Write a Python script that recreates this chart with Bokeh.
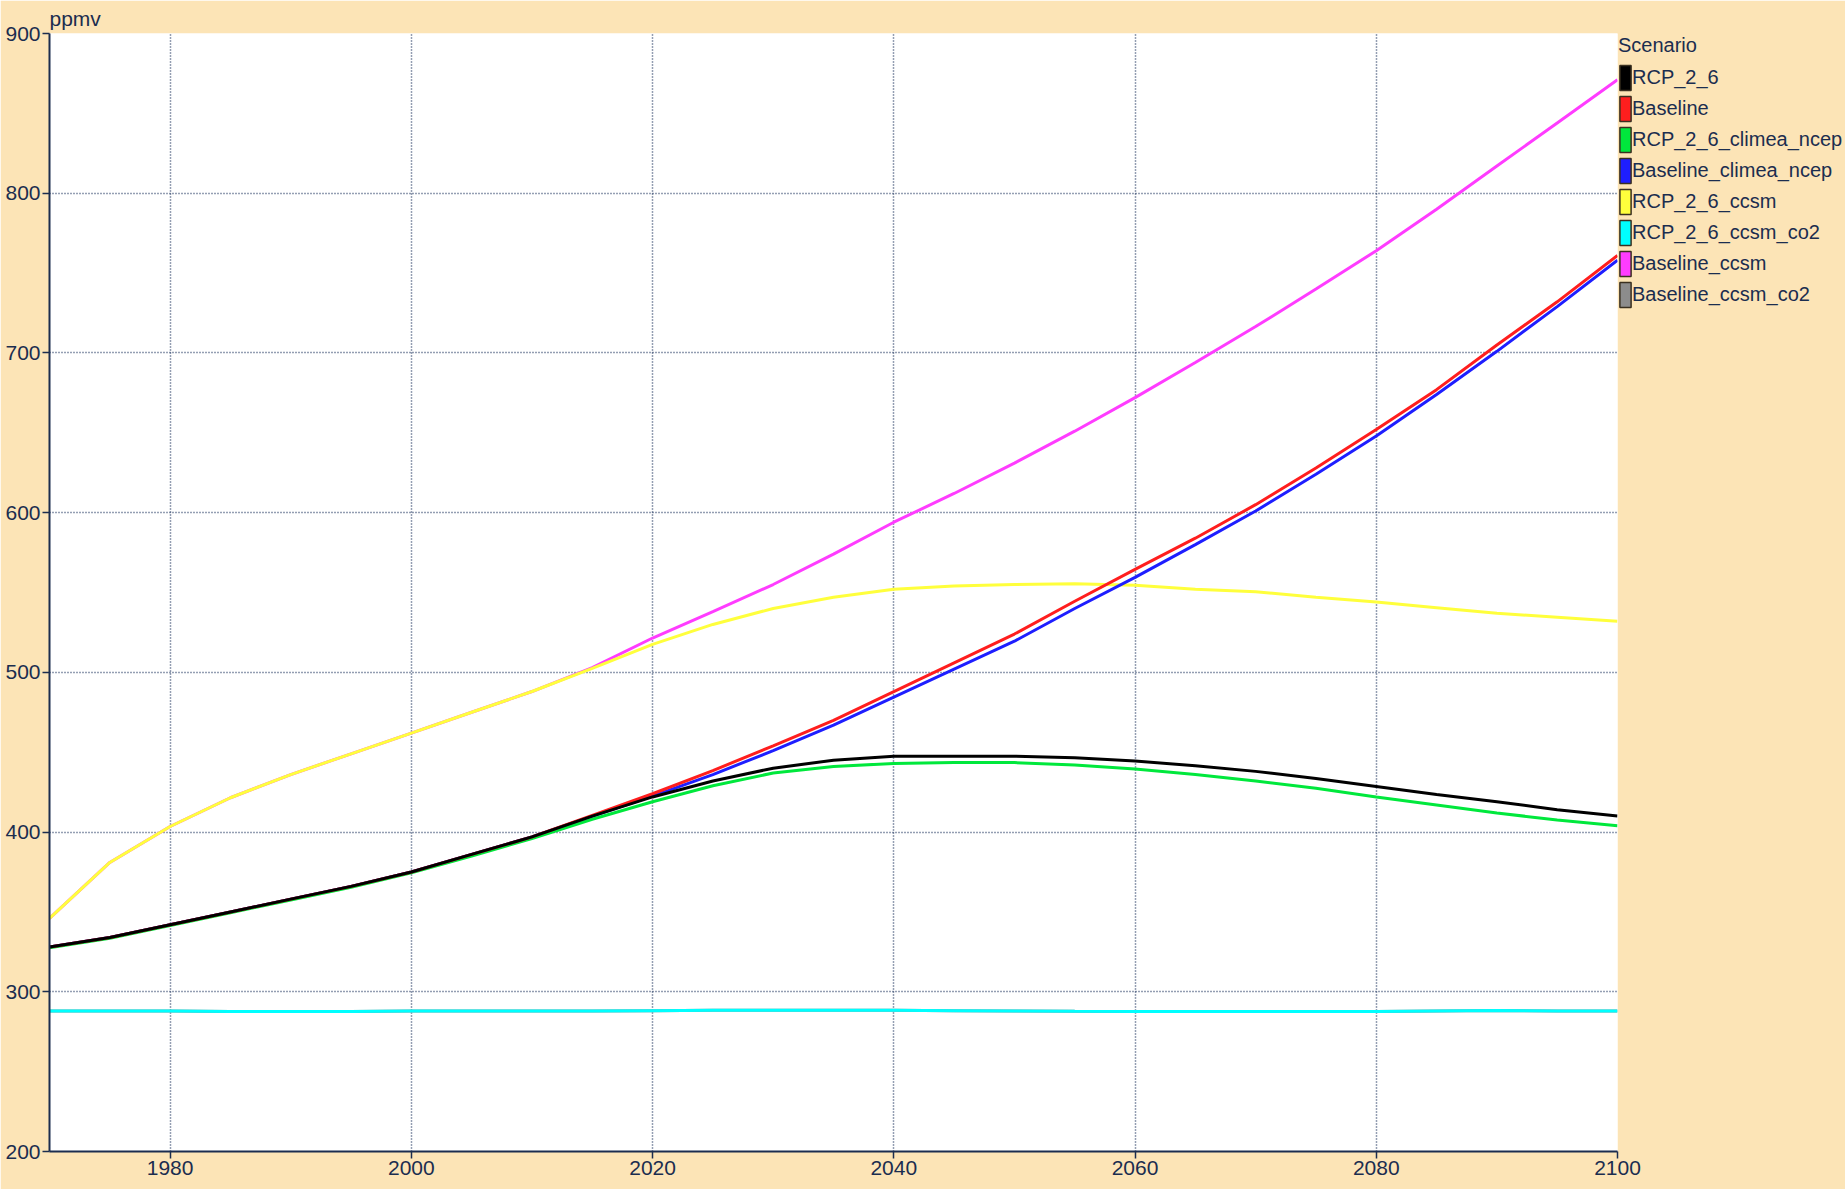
from bokeh.plotting import figure
from bokeh.models import Range1d, FixedTicker, Legend, LegendItem
from bokeh.embed import file_html
from bokeh.resources import INLINE

years = list(range(1970, 2101, 5))

rcp_2_6 = [328, 334, 342, 350, 358, 366, 375, 386, 397, 410, 422, 432, 440, 445, 447.5,
           447.5, 447.5, 446.5, 444.5, 441.5, 438, 433.5, 428.5, 423.5, 419, 414, 410]
baseline = [328, 334, 342, 350, 358, 366, 375, 386, 397, 410.5, 424, 438.5, 454, 470, 488,
            506, 524, 544.5, 564.5, 584, 605, 628, 652, 677, 705, 732, 761]
rcp_2_6_climea_ncep = [327.5, 333.5, 341.5, 349.5, 357.5, 365.5, 374.5, 385, 396, 408, 419, 429,
                       437, 441, 443, 443.5, 443.5, 442, 439.5, 436, 432, 427.5, 422, 417, 412, 407.5, 404]
baseline_climea_ncep = [328, 334, 342, 350, 358, 366, 375, 386, 397, 410, 422.5, 436, 451, 467,
                        484.5, 502, 519.5, 540, 559.5, 580, 601, 624, 648, 674, 701, 729, 758]
rcp_2_6_ccsm = [346, 381, 403.5, 421.5, 436, 449, 462, 475, 488, 502.5, 517.5, 530, 540, 547, 552,
                554, 555, 555.5, 554.5, 552, 550.5, 547, 544, 540.5, 537, 534.5, 532]
rcp_2_6_ccsm_co2 = [288, 288, 288, 287.6, 287.6, 287.7, 288, 288, 288, 288, 288.2, 288.4, 288.4,
                    288.4, 288.4, 288.2, 288, 287.8, 287.7, 287.7, 287.7, 287.7, 287.7, 288, 288.3, 288, 288]
baseline_ccsm = [346, 381, 403.5, 421.5, 436, 449, 462, 475, 488, 503, 521.5, 538, 555, 574, 594,
                 612, 631, 651, 672, 694, 716.5, 740, 764, 790, 817, 844, 871]
baseline_ccsm_co2 = list(rcp_2_6_ccsm_co2)

series_names = ["RCP_2_6", "Baseline", "RCP_2_6_climea_ncep", "Baseline_climea_ncep",
                "RCP_2_6_ccsm", "RCP_2_6_ccsm_co2", "Baseline_ccsm", "Baseline_ccsm_co2"]
series_values = [rcp_2_6, baseline, rcp_2_6_climea_ncep, baseline_climea_ncep,
                 rcp_2_6_ccsm, rcp_2_6_ccsm_co2, baseline_ccsm, baseline_ccsm_co2]
series_colors = ["#000000", "#FF1E1E", "#00E83C", "#1E1EFF", "#FFFF3C", "#00FFFF", "#FF3CFF", "#8C8C8C"]

x_ticks = [1980, 2000, 2020, 2040, 2060, 2080, 2100]
y_ticks = [200, 300, 400, 500, 600, 700, 800, 900]

BG = "#FCE4B6"
INK = "#1B2D4F"
FONT = "Liberation Sans"

p = figure(frame_width=1568, frame_height=1118, output_backend="svg", toolbar_location=None,
           x_range=Range1d(1970, 2100), y_range=Range1d(200, 900),
           min_border_left=49, min_border_right=228, min_border_top=33, min_border_bottom=38,
           background_fill_color="white", border_fill_color=BG, title="ppmv")
p.outline_line_color = None

p.title.text_font = FONT
p.title.text_font_size = "21px"
p.title.text_font_style = "normal"
p.title.text_color = INK
p.title.align = "left"
p.title.standoff = 8

for ax in (p.xaxis[0], p.yaxis[0]):
    ax.axis_line_color = INK
    ax.axis_line_width = 2
    ax.major_tick_line_color = INK
    ax.major_tick_line_width = 1.5
    ax.minor_tick_line_color = None
    ax.major_tick_in = 0
    ax.major_tick_out = 7
    ax.major_label_text_font = FONT
    ax.major_label_text_font_size = "21px"
    ax.major_label_text_color = INK
    ax.major_label_standoff = 2

p.xaxis.ticker = FixedTicker(ticks=x_ticks)
p.yaxis.ticker = FixedTicker(ticks=y_ticks)

for g in (p.xgrid[0], p.ygrid[0]):
    g.grid_line_color = "#2B3F66"
    g.grid_line_dash = "1 2"
    g.grid_line_width = 1.5

# legend swatches: zero-size quads at each series' first point (hidden under the lines)
items = []
for name, vals, col in zip(series_names, series_values, series_colors):
    r = p.quad(left=[years[0]], right=[years[0]], top=[vals[0]], bottom=[vals[0]],
               fill_color=col, line_color="#3A3020", line_width=1.5)
    items.append(LegendItem(label=name, renderers=[r]))

# draw in reverse order so first-listed scenarios lie on top
for name, vals, col in reversed(list(zip(series_names, series_values, series_colors))):
    p.line(years, vals, line_color=col, line_width=3)

legend = Legend(items=items, location="top_left", title="Scenario",
                glyph_width=14, glyph_height=31, spacing=0, padding=0, margin=1,
                label_standoff=0, label_height=27,
                label_text_font=FONT, label_text_font_size="20px", label_text_color=INK,
                title_text_font=FONT, title_text_font_size="20px", title_text_color=INK,
                title_text_font_style="normal", title_standoff=5,
                background_fill_alpha=0, border_line_alpha=0)
p.add_layout(legend, "right")

open("out.html", "w").write(file_html(p, INLINE))
